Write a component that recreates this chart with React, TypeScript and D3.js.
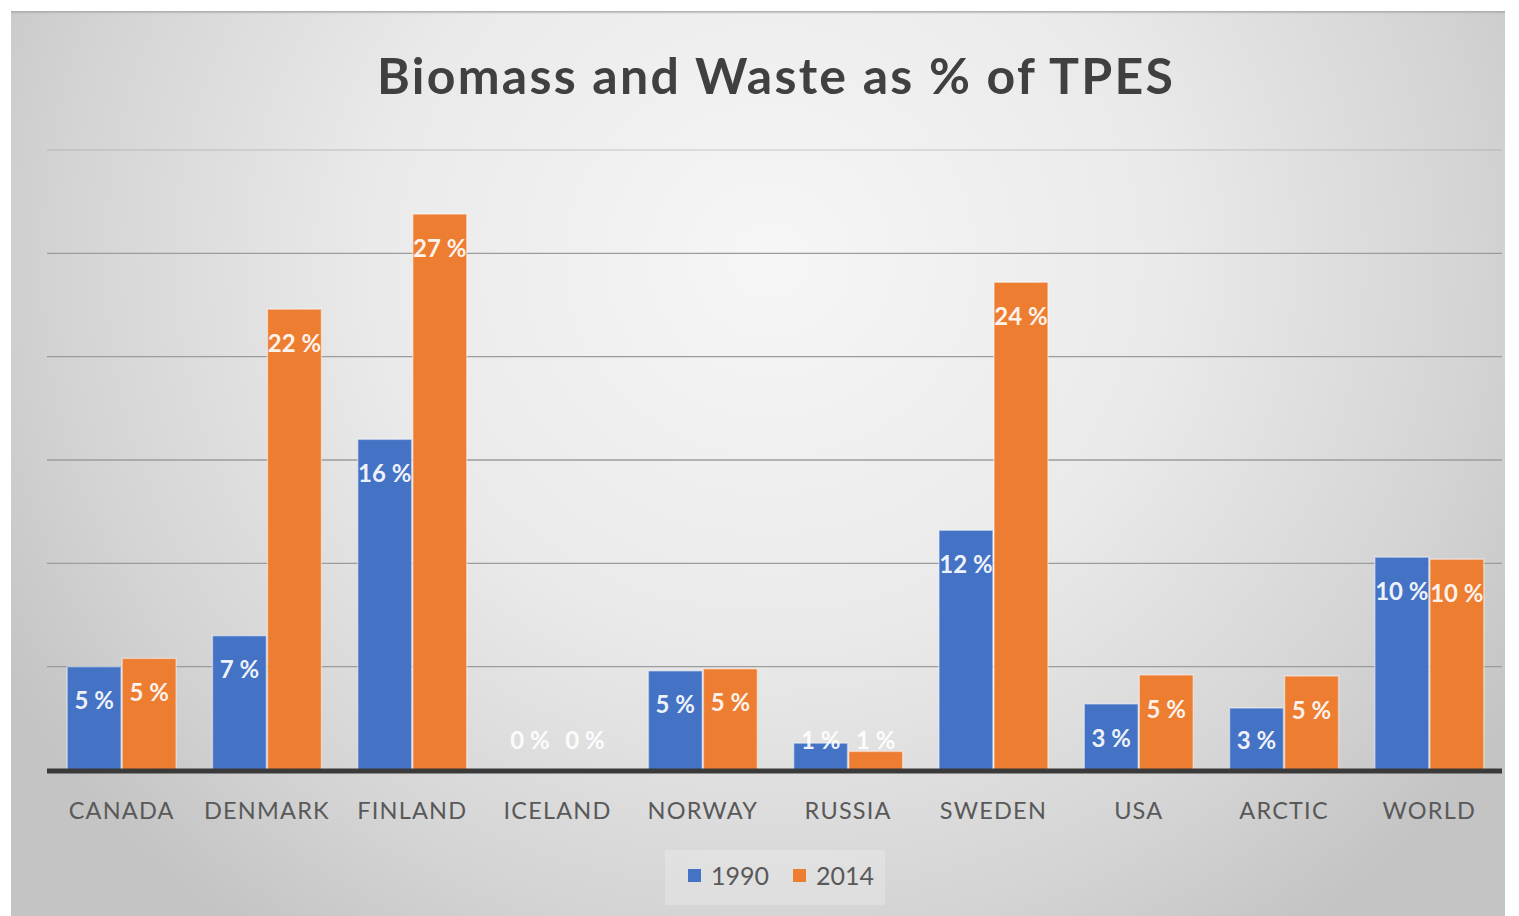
import React from "react";
import * as d3 from "d3";

const categories = ["CANADA", "DENMARK", "FINLAND", "ICELAND", "NORWAY", "RUSSIA", "SWEDEN", "USA", "ARCTIC", "WORLD"];
const series = ["1990", "2014"];
const values1990 = [5.0, 6.5, 16.0, 0, 4.8, 1.3, 11.6, 3.2, 3.0, 10.3];
const values2014 = [5.4, 22.3, 26.9, 0, 4.9, 0.9, 23.6, 4.6, 4.55, 10.2];
const yTicks = [0, 5, 10, 15, 20, 25, 30];
const colors = ["#4472C4", "#ED7D31"];
const title = "Biomass and Waste as % of TPES";

const W = 1519;
const H = 916;
const FONT = "Lato, 'Open Sans', sans-serif";

export default function App() {
  const x0 = d3.scaleBand<string>().domain(categories).range([49, 1502]).paddingInner(0.25).paddingOuter(0.125);
  const x1 = d3.scaleBand<string>().domain(series).range([0, x0.bandwidth()]).paddingInner(0.02);
  const y = d3.scaleLinear().domain([0, 30]).range([770, 150]);
  const data = [values1990, values2014];

  return (
    <svg width={W} height={H} style={{ position: "absolute", left: 0, top: 0, display: "block" }}>
      <defs>
        <radialGradient id="bg" gradientUnits="userSpaceOnUse" cx={770} cy={260} r={880} gradientTransform="translate(770 260) scale(1 0.95) translate(-770 -260)">
          <stop offset="0" stopColor="#f6f6f6" />
          <stop offset="0.45" stopColor="#eaeaea" />
          <stop offset="0.8" stopColor="#d4d4d4" />
          <stop offset="1" stopColor="#c4c4c4" />
        </radialGradient>
        <linearGradient id="topShadow" x1="0" y1="0" x2="0" y2="1">
          <stop offset="0" stopColor="#a8a8a8" />
          <stop offset="1" stopColor="#a8a8a8" stopOpacity="0" />
        </linearGradient>
      </defs>
      <rect x={0} y={0} width={W} height={H} fill="#ffffff" />
      <rect x={11} y={11} width={1494} height={H - 11} fill="url(#bg)" />
      <rect x={11} y={11} width={1494} height={3} fill="url(#topShadow)" />

      <text x={377} y={94} textLength={796} lengthAdjust="spacing" fontFamily={FONT} fontWeight={700} fontSize={50} fill="#404040">
        {title}
      </text>

      {yTicks.filter((t) => t > 0).map((t) => (
        <line key={t} x1={47} x2={1502} y1={y(t)} y2={y(t)} stroke="#9c9c9c" strokeOpacity={t === 30 ? 0.35 : 1} strokeWidth={1.3} />
      ))}

      {categories.map((c, i) => (
        <g key={c} transform={`translate(${x0(c)},0)`}>
          {series.map((s, j) => {
            const v = data[j][i];
            const top = y(v);
            return (
              <rect key={s} x={x1(s)} y={top} width={x1.bandwidth()} height={y(0) - top} fill={colors[j]} stroke="#fff" strokeOpacity={0.45} strokeWidth={1.5} />
            );
          })}
        </g>
      ))}

      <line x1={47} x2={1502} y1={y(0) + 1} y2={y(0) + 1} stroke="#3a3a3a" strokeWidth={5} />

      {categories.map((c, i) => (
        <g key={c + "l"} transform={`translate(${x0(c)},0)`}>
          {series.map((s, j) => {
            const v = data[j][i];
            const cy = Math.min(y(v) + 34, y(0) - 30);
            return (
              <text key={s} x={(x1(s) as number) + x1.bandwidth() / 2} y={cy} dy="0.36em" textAnchor="middle" fontFamily={FONT} fontWeight={700} fontSize={24} fill="#ffffff" fillOpacity={0.93}>
                {`${Math.round(v)} %`}
              </text>
            );
          })}
        </g>
      ))}

      {categories.map((c) => (
        <text key={c + "a"} x={(x0(c) as number) + x0.bandwidth() / 2} y={819} textAnchor="middle" fontFamily={FONT} fontSize={23.5} letterSpacing={1.2} fill="#595959">
          {c}
        </text>
      ))}

      <rect x={665} y={850} width={220} height={55} fill="#ffffff" fillOpacity={0.22} rx={2} />
      {series.map((s, j) => (
        <g key={s} transform={`translate(${688 + j * 105},0)`}>
          <rect x={0} y={869} width={13} height={13} fill={colors[j]} />
          <text x={23} y={885} fontFamily={FONT} fontSize={25} fill="#595959">
            {s}
          </text>
        </g>
      ))}
    </svg>
  );
}
